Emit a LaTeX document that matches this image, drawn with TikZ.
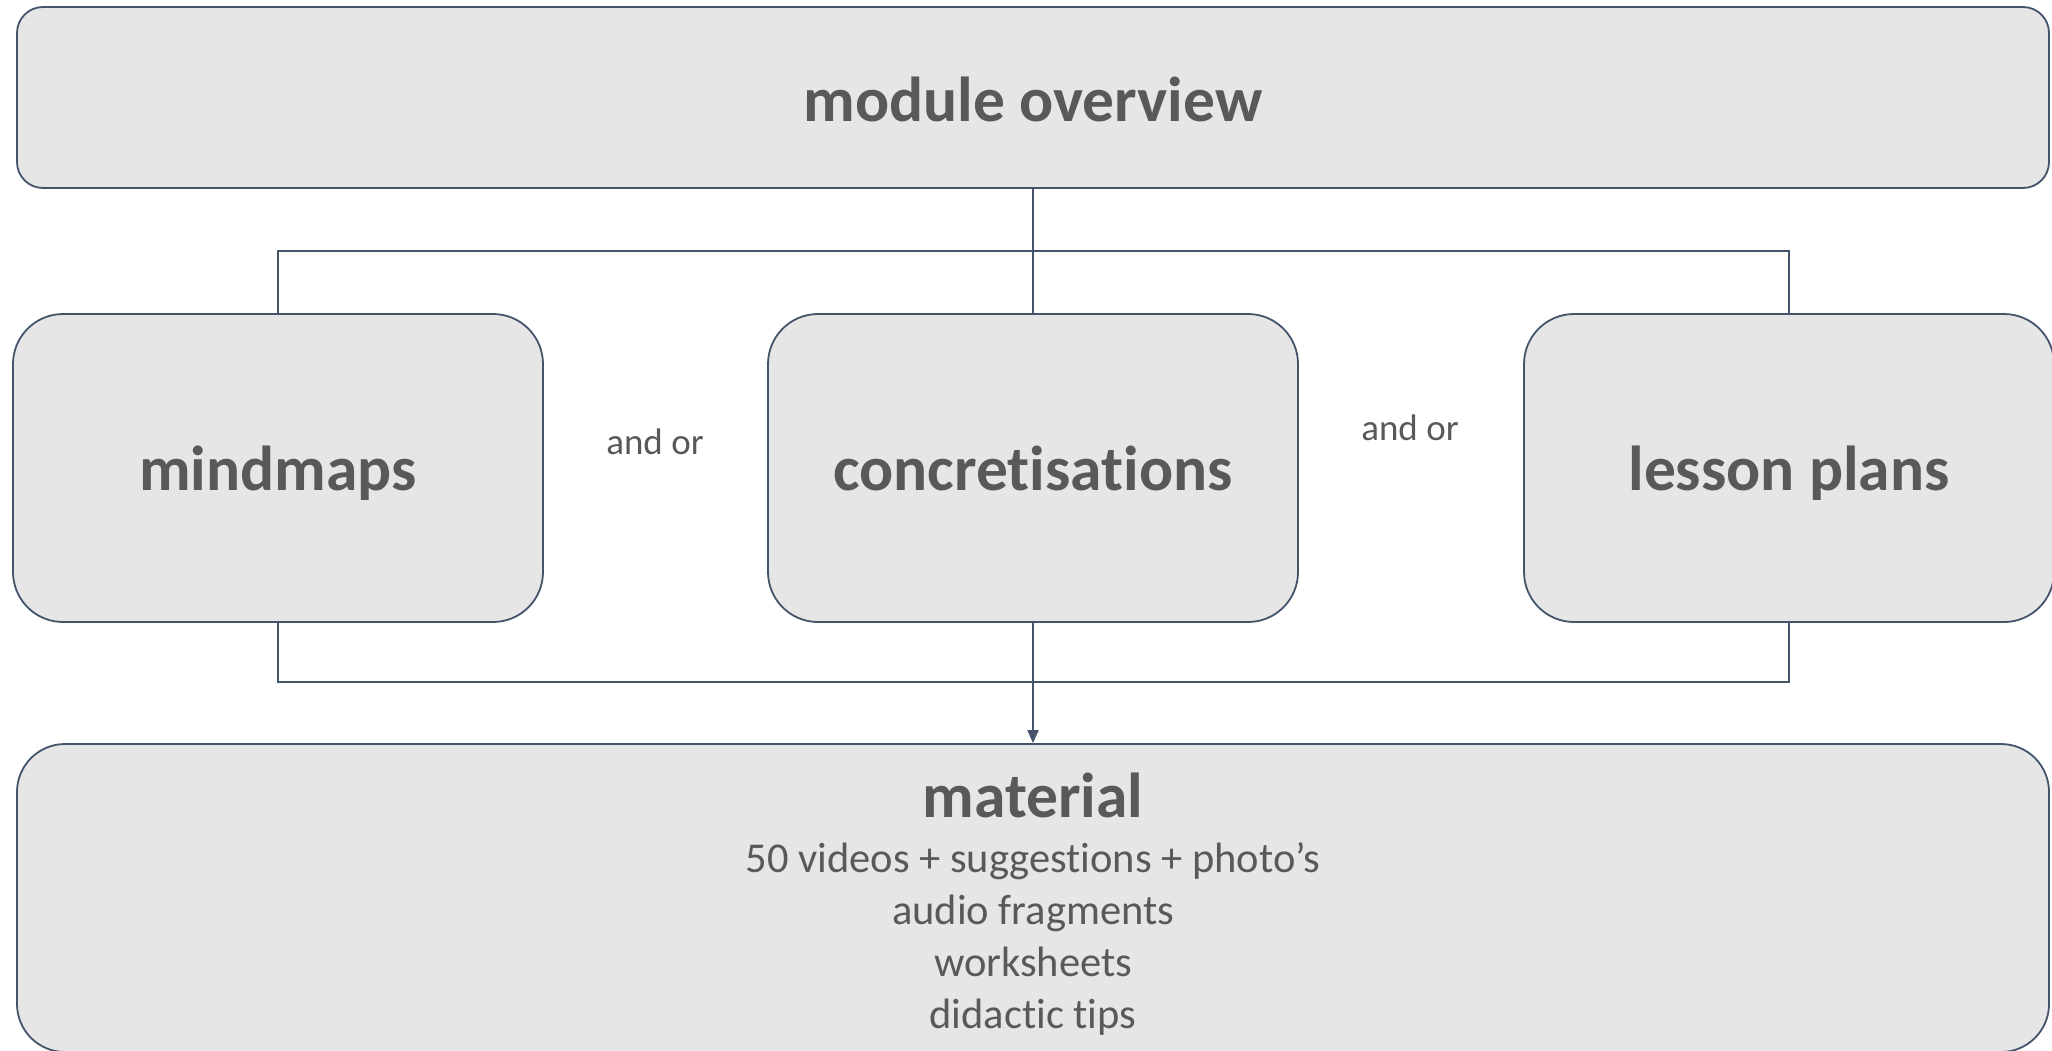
\documentclass[tikz,border=0pt]{standalone}
\usepackage{fontspec}
\setmainfont{Carlito}[Ligatures=NoCommon, RawFeature={-liga;-dlig}]
\usetikzlibrary{arrows.meta}
\definecolor{edge}{HTML}{44546A}
\definecolor{boxfill}{HTML}{E6E6E6}
\definecolor{txt}{HTML}{595959}
\newcommand{\tiNolig}{t\kern0pt i}
\tikzset{
  box/.style={draw=edge, fill=boxfill, line width=1.8pt, inner sep=0pt},
  bigbox/.style={box, rounded corners=26pt, minimum width=2032pt, minimum height=181pt},
  midbox/.style={box, rounded corners=50pt, minimum width=530pt, minimum height=308pt},
  matbox/.style={box, rounded corners=48pt, minimum width=2032pt, minimum height=308pt},
  boldlbl/.style={text=txt, anchor=base, inner sep=0pt, font=\fontsize{63.5}{70}\selectfont\bfseries},
  reglbl/.style={text=txt, anchor=base, inner sep=0pt, font=\fontsize{42.5}{50}\selectfont},
  andor/.style={text=txt, anchor=base, inner sep=0pt, font=\fontsize{37}{44}\selectfont},
  conn/.style={draw=edge, line width=1.8pt},
}
\begin{document}
\begin{tikzpicture}[x=1pt,y=-1pt]
\useasboundingbox (0,0) rectangle (2052,1050);
\node[bigbox] (overview) at (1033,97.5) {};
\node[midbox] (mind) at (278,468) {};
\node[midbox] (concret) at (1033,468) {};
\node[midbox] (lesson) at (1789,468) {};
\node[matbox] (material) at (1033,898) {};

\node[boldlbl] (overviewtxt) at (1033,121) {module overview};
\node[boldlbl] (mindtxt) at (278,490) {mindmaps};
\node[boldlbl] (concrettxt) at (1033,490) {concre\tiNolig sa\tiNolig ons};
\node[boldlbl] (lessontxt) at (1789,490) {lesson plans};
\node[andor] (andor1) at (655,454) {and or};
\node[andor] (andor2) at (1410,440) {and or};

\node[boldlbl] (mattitle) at (1033,817) {material};
\node[reglbl] (mat1) at (1033,872) {50 videos + sugges\tiNolig ons + photo’s};
\node[reglbl] (mat2) at (1033,924) {audio fragments};
\node[reglbl] (mat3) at (1033,976) {worksheets};
\node[reglbl] (mat4) at (1033,1028) {didac\tiNolig c tips};

\coordinate (topbus) at (1033,251);
\coordinate (botbus) at (1033,682);
\draw[conn] (overview.south) -- (concret.north);
\draw[conn] (mind.north) |- (topbus) -| (lesson.north);
\draw[conn] (mind.south) |- (botbus) -| (lesson.south);
\draw[conn, -{Triangle[length=13pt,width=11pt]}] (concret.south) -- (material.north);
\end{tikzpicture}
\end{document}
